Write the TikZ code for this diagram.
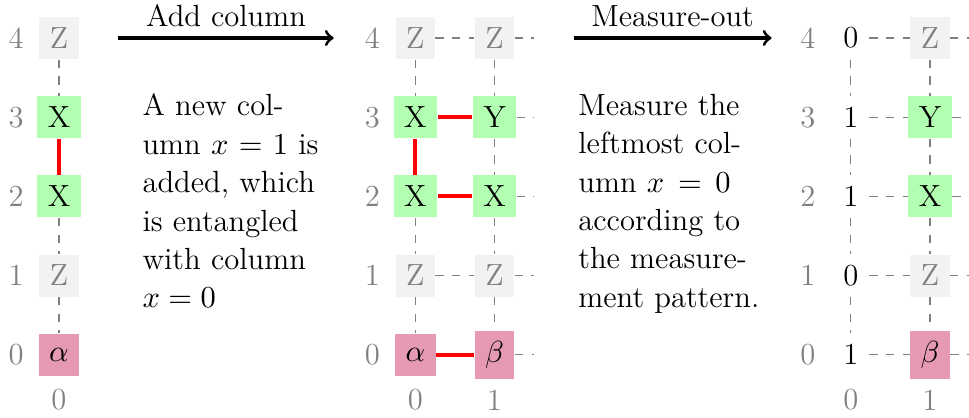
\documentclass[tikz,border=0pt]{standalone}
\usepackage{amsmath}
\usepackage{xcolor}
\usepackage{tikz}

\tikzset{
 cell/.style={inner sep=3.75pt, minimum height=0.53cm},
 zcell/.style={cell, fill=gray!10, text=gray},
 xcell/.style={cell, fill=green!30},
 pcell/.style={cell, fill=purple!40},
 wire/.style={gray, dashed, line width=0.4pt},
 ent/.style={red, line width=1.4pt},
 idx/.style={text=gray, inner sep=0pt},
 flow/.style={->, line width=1.1pt},
 txt/.style={text width=2.4cm, align=left, inner sep=0pt, anchor=north west},
}

\begin{document}
\begin{tikzpicture}[font=\fontsize{11}{13.8}\selectfont]
 \useasboundingbox (-0.745,-0.798) rectangle (11.493,4.48);
 % column 0 only
 \node[zcell] (A04) at (0, 4) {Z};
 \node[xcell] (A03) at (0, 3) {X};
 \node[xcell] (A02) at (0, 2) {X};
 \node[zcell] (A01) at (0, 1) {Z};
 \node[pcell] (A00) at (0, 0) {$\alpha$};
 \node[idx, anchor=east] (AR4) at (-0.44, 4) {4};
 \node[idx, anchor=east] (AR3) at (-0.44, 3) {3};
 \node[idx, anchor=east] (AR2) at (-0.44, 2) {2};
 \node[idx, anchor=east] (AR1) at (-0.44, 1) {1};
 \node[idx, anchor=east] (AR0) at (-0.44, 0) {0};
 \node[idx] (AC0) at (0, -0.57) {0};
 \draw[wire] (A04) -- (A03);
 \draw[ent] (A03) -- (A02);
 \draw[wire] (A02) -- (A01);
 \draw[wire] (A01) -- (A00);

 % add column
 \coordinate (S1) at (0.75, 4);
 \coordinate (T1) at (3.47, 4);
 \draw[flow] (S1) -- node[above] {Add column} (T1);
 \node[txt] (N1) at (1.048, 3.30) {A new column $x=1$ is added, which is entangled with column $x=0$};

 % columns 0 and 1
 \node[zcell] (B04) at (4.5, 4) {Z};
 \node[xcell] (B03) at (4.5, 3) {X};
 \node[xcell] (B02) at (4.5, 2) {X};
 \node[zcell] (B01) at (4.5, 1) {Z};
 \node[pcell] (B00) at (4.5, 0) {$\alpha$};
 \node[zcell] (B14) at (5.5, 4) {Z};
 \node[xcell] (B13) at (5.5, 3) {Y};
 \node[xcell] (B12) at (5.5, 2) {X};
 \node[zcell] (B11) at (5.5, 1) {Z};
 \node[pcell] (B10) at (5.5, 0) {$\beta$};
 \coordinate (BE4) at (6, 4);
 \coordinate (BE3) at (6, 3);
 \coordinate (BE2) at (6, 2);
 \coordinate (BE1) at (6, 1);
 \coordinate (BE0) at (6, 0);
 \node[idx, anchor=east] (BR4) at (4.06, 4) {4};
 \node[idx, anchor=east] (BR3) at (4.06, 3) {3};
 \node[idx, anchor=east] (BR2) at (4.06, 2) {2};
 \node[idx, anchor=east] (BR1) at (4.06, 1) {1};
 \node[idx, anchor=east] (BR0) at (4.06, 0) {0};
 \node[idx] (BC0) at (4.5, -0.57) {0};
 \node[idx] (BC1) at (5.5, -0.57) {1};
 \draw[wire] (B04) -- (B03);
 \draw[ent] (B03) -- (B02);
 \draw[wire] (B02) -- (B01);
 \draw[wire] (B01) -- (B00);
 \draw[wire] (B14) -- (B13);
 \draw[wire] (B13) -- (B12);
 \draw[wire] (B12) -- (B11);
 \draw[wire] (B11) -- (B10);
 \draw[wire] (B04) -- (B14);
 \draw[ent] (B03) -- (B13);
 \draw[ent] (B02) -- (B12);
 \draw[wire] (B01) -- (B11);
 \draw[ent] (B00) -- (B10);
 \draw[wire] (B14) -- (BE4);
 \draw[wire] (B13) -- (BE3);
 \draw[wire] (B12) -- (BE2);
 \draw[wire] (B11) -- (BE1);
 \draw[wire] (B10) -- (BE0);

 % measure-out
 \coordinate (S2) at (6.5, 4);
 \coordinate (T2) at (9, 4);
 \draw[flow] (S2) -- node[above] {Measure-out} (T2);
 \node[txt] (N2) at (6.553, 3.30) {Measure the leftmost column $x=0$ according to the measurement pattern.};

 % outcomes and column 1
 \node[cell] (C04) at (10, 4) {0};
 \node[cell] (C03) at (10, 3) {1};
 \node[cell] (C02) at (10, 2) {1};
 \node[cell] (C01) at (10, 1) {0};
 \node[cell] (C00) at (10, 0) {1};
 \node[zcell] (C14) at (11, 4) {Z};
 \node[xcell] (C13) at (11, 3) {Y};
 \node[xcell] (C12) at (11, 2) {X};
 \node[zcell] (C11) at (11, 1) {Z};
 \node[pcell] (C10) at (11, 0) {$\beta$};
 \coordinate (CE4) at (11.5, 4);
 \coordinate (CE3) at (11.5, 3);
 \coordinate (CE2) at (11.5, 2);
 \coordinate (CE1) at (11.5, 1);
 \coordinate (CE0) at (11.5, 0);
 \node[idx, anchor=east] (CR4) at (9.56, 4) {4};
 \node[idx, anchor=east] (CR3) at (9.56, 3) {3};
 \node[idx, anchor=east] (CR2) at (9.56, 2) {2};
 \node[idx, anchor=east] (CR1) at (9.56, 1) {1};
 \node[idx, anchor=east] (CR0) at (9.56, 0) {0};
 \node[idx] (CC0) at (10, -0.57) {0};
 \node[idx] (CC1) at (11, -0.57) {1};
 \draw[wire] (C04) -- (C03);
 \draw[wire] (C03) -- (C02);
 \draw[wire] (C02) -- (C01);
 \draw[wire] (C01) -- (C00);
 \draw[wire] (C14) -- (C13);
 \draw[wire] (C13) -- (C12);
 \draw[wire] (C12) -- (C11);
 \draw[wire] (C11) -- (C10);
 \draw[wire] (C04) -- (C14);
 \draw[wire] (C03) -- (C13);
 \draw[wire] (C02) -- (C12);
 \draw[wire] (C01) -- (C11);
 \draw[wire] (C00) -- (C10);
 \draw[wire] (C14) -- (CE4);
 \draw[wire] (C13) -- (CE3);
 \draw[wire] (C12) -- (CE2);
 \draw[wire] (C11) -- (CE1);
 \draw[wire] (C10) -- (CE0);
\end{tikzpicture}
\end{document}
